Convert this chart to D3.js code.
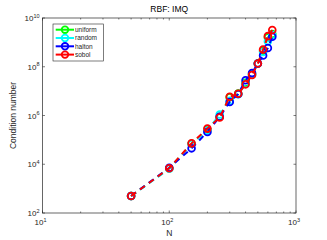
<!DOCTYPE html>
<html>
<head>
<meta charset="utf-8">
<script src="https://cdn.jsdelivr.net/npm/d3@7"></script>
<style>
  body { margin: 0; background: #fff; }
  text { font-family: "Liberation Sans", Arial, sans-serif; }
</style>
</head>
<body>
<div id="chart"></div>
<script>
var nValues = [50, 100, 150, 200, 250, 300, 350, 400, 450, 500, 550, 600, 650];
var uniform = [5.0e2, 6.8e3, 6.9e4, 2.6e5, 8.9e5, 5.6e6, 7.9e6, 2.2e7, 5.0e7, 1.35e8, 4.5e8, 1.6e9, 2.2e9];
var random  = [5.0e2, 6.5e3, 6.8e4, 2.4e5, 1.1e6, 4.0e6, 7.4e6, 2.0e7, 4.8e7, 1.35e8, 4.0e8, 1.1e9, 2.0e9];
var halton  = [5.0e2, 7.2e3, 4.5e4, 2.1e5, 8.9e5, 3.6e6, 7.6e6, 2.8e7, 5.5e7, 1.35e8, 2.9e8, 5.9e8, 1.7e9];
var sobol   = [5.0e2, 6.9e3, 7.2e4, 2.9e5, 8.3e5, 5.9e6, 7.8e6, 1.9e7, 4.6e7, 1.35e8, 5.1e8, 1.8e9, 3.2e9];
var seriesNames = ["uniform", "random", "halton", "sobol"];
var seriesColors = ["#00ff00", "#00ffff", "#0000ff", "#ff0000"];
var xTicks = [1, 2, 3];
var yTicks = [2, 4, 6, 8, 10];

var allSeries = [uniform, random, halton, sobol];

var W = 327, H = 240;
var margin = {top: 18, right: 31, bottom: 27, left: 42.5},
    width = W - margin.left - margin.right,
    height = H - margin.top - margin.bottom;

var svg = d3.select("#chart")
  .append("svg")
    .attr("width", W)
    .attr("height", H);

var g = svg.append("g")
    .attr("transform", "translate(" + margin.left + "," + margin.top + ")");

var x = d3.scaleLog().domain([10, 1000]).range([0, width]);
var y = d3.scaleLog().domain([1e2, 1e10]).range([height, 0]);

var axisColor = "#262626";

// minor ticks on x
var minor = [];
[10, 100].forEach(function (b) {
  for (var k = 2; k <= 9; k++) minor.push(b * k);
});
minor.forEach(function (v) {
  g.append("line").attr("x1", x(v)).attr("x2", x(v)).attr("y1", height).attr("y2", height - 1.5)
    .attr("stroke", axisColor).attr("stroke-width", 0.6);
  g.append("line").attr("x1", x(v)).attr("x2", x(v)).attr("y1", 0).attr("y2", 1.5)
    .attr("stroke", axisColor).attr("stroke-width", 0.6);
});
xTicks.forEach(function (e) {
  var v = Math.pow(10, e);
  g.append("line").attr("x1", x(v)).attr("x2", x(v)).attr("y1", height).attr("y2", height - 2.5)
    .attr("stroke", axisColor).attr("stroke-width", 0.6);
  g.append("line").attr("x1", x(v)).attr("x2", x(v)).attr("y1", 0).attr("y2", 2.5)
    .attr("stroke", axisColor).attr("stroke-width", 0.6);
  var t = g.append("text").attr("x", x(v) - 2).attr("y", height + 12)
    .attr("text-anchor", "middle").attr("fill", axisColor).style("font-size", "8px");
  t.append("tspan").text("10");
  t.append("tspan").attr("dy", -3.5).style("font-size", "5.5px").text(e);
});
yTicks.forEach(function (e) {
  var v = Math.pow(10, e);
  g.append("line").attr("x1", 0).attr("x2", 2.5).attr("y1", y(v)).attr("y2", y(v))
    .attr("stroke", axisColor).attr("stroke-width", 0.6);
  g.append("line").attr("x1", width).attr("x2", width - 2.5).attr("y1", y(v)).attr("y2", y(v))
    .attr("stroke", axisColor).attr("stroke-width", 0.6);
  var t = g.append("text").attr("x", -3).attr("y", y(v) + 3)
    .attr("text-anchor", "end").attr("fill", axisColor).style("font-size", "8px");
  t.append("tspan").text("10");
  t.append("tspan").attr("dy", -3.5).style("font-size", "5.5px").text(e);
});

g.append("rect")
  .attr("x", 0).attr("y", 0).attr("width", width).attr("height", height)
  .attr("fill", "none").attr("stroke", axisColor).attr("stroke-width", 0.7);

var line = d3.line()
  .x(function (d) { return x(d[0]); })
  .y(function (d) { return y(d[1]); });

allSeries.forEach(function (s, i) {
  var pts = nValues.map(function (n, j) { return [n, s[j]]; });
  g.append("path")
    .datum(pts)
    .attr("d", line)
    .attr("fill", "none")
    .attr("stroke", seriesColors[i])
    .attr("stroke-width", 2)
    .attr("stroke-dasharray", "6,5");
  g.selectAll(".m" + i)
    .data(pts)
    .enter().append("circle")
      .attr("cx", function (d) { return x(d[0]); })
      .attr("cy", function (d) { return y(d[1]); })
      .attr("r", 3.4)
      .attr("fill", "none")
      .attr("stroke", seriesColors[i])
      .attr("stroke-width", 1.8);
});

// legend
var lg = g.append("g").attr("transform", "translate(10.5,6)");
lg.append("rect").attr("x", 0).attr("y", 0).attr("width", 50.5).attr("height", 37)
  .attr("fill", "#fff").attr("stroke", axisColor).attr("stroke-width", 0.6);
seriesNames.forEach(function (name, i) {
  var yy = 5.7 + i * 8.3;
  lg.append("line").attr("x1", 2.7).attr("x2", 21).attr("y1", yy).attr("y2", yy)
    .attr("stroke", seriesColors[i]).attr("stroke-width", 2);
  lg.append("circle").attr("cx", 12).attr("cy", yy).attr("r", 3.3)
    .attr("fill", "none").attr("stroke", seriesColors[i]).attr("stroke-width", 1.8);
  lg.append("text").attr("x", 22).attr("y", yy + 2.4).attr("fill", axisColor)
    .style("font-size", "6.5px").text(name);
});

// title and labels
svg.append("text").attr("x", margin.left + width / 2).attr("y", 12)
  .attr("text-anchor", "middle").attr("fill", "#000").style("font-size", "8.5px")
  .text("RBF: IMQ");
svg.append("text").attr("x", margin.left + width / 2).attr("y", 236)
  .attr("text-anchor", "middle").attr("fill", axisColor).style("font-size", "8.5px")
  .text("N");
svg.append("text")
  .attr("transform", "translate(16," + (margin.top + height / 2) + ")rotate(-90)")
  .attr("text-anchor", "middle").attr("fill", axisColor).style("font-size", "8.5px")
  .text("Condition number");
</script>
</body>
</html>
